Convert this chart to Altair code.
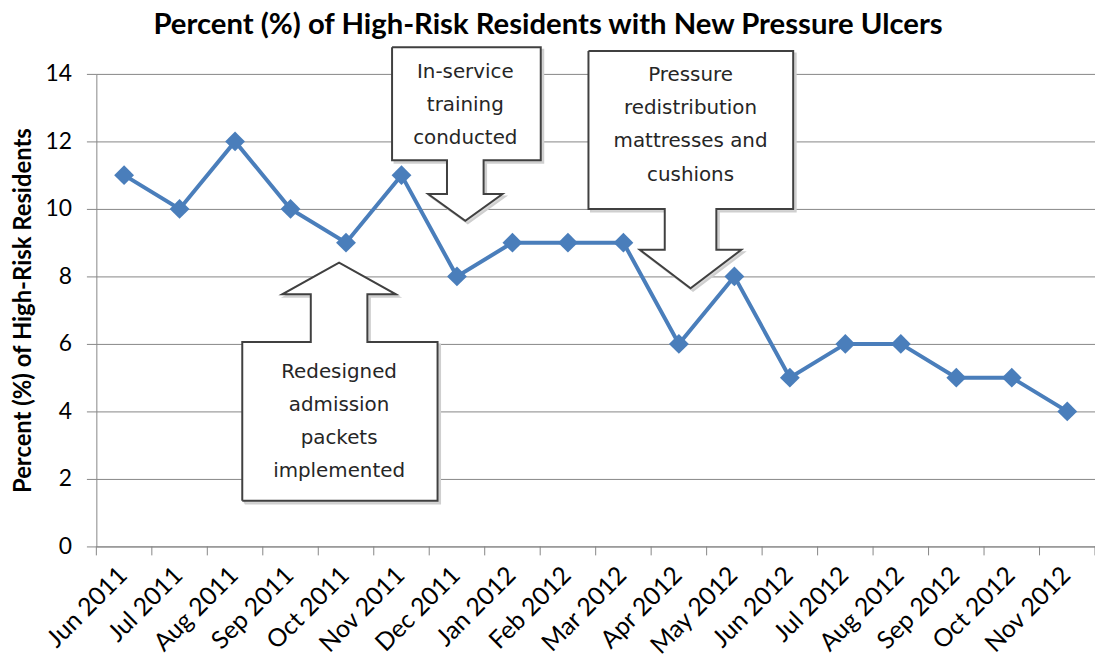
import altair as alt
import pandas as pd

# ---- data -------------------------------------------------------------
months = ["Jun 2011", "Jul 2011", "Aug 2011", "Sep 2011", "Oct 2011", "Nov 2011",
          "Dec 2011", "Jan 2012", "Feb 2012", "Mar 2012", "Apr 2012", "May 2012",
          "Jun 2012", "Jul 2012", "Aug 2012", "Sep 2012", "Oct 2012", "Nov 2012"]
percent = [11, 10, 12, 10, 9, 11, 8, 9, 9, 9, 6, 8, 5, 6, 6, 5, 5, 4]

# callout annotations (in data units: x = month index, y = percent)
callout_text = ["In-service\ntraining\nconducted",
                "Pressure\nredistribution\nmattresses and\ncushions",
                "Redesigned\nadmission\npackets\nimplemented"]
callout_text_y = [14.06, 13.97, 5.18]   # first line of each text
box_left = [4.83, 8.37, 2.13]
box_right = [7.51, 12.06, 5.65]
box_far = [14.79, 14.68, 1.35]     # box edge away from the arrow
box_near = [11.44, 10.0, 6.06]     # box edge where the arrow leaves
arrow_x = [6.15, 10.21, 3.875]
stem_half = [0.33, 0.465, 0.51]
head_half = [0.67, 0.915, 1.025]
neck_y = [10.44, 8.79, 7.47]
tip_y = [9.65, 7.65, 8.41]

# ---- tables -------------------------------------------------------------
n = len(months)
df = pd.DataFrame({"idx": list(range(n)), "month": months, "pct": percent})
bounds = pd.DataFrame({"b": [i - 0.5 for i in range(n + 1)]})

rows = []
for i in range(len(callout_text)):
    L, R, F, N = box_left[i], box_right[i], box_far[i], box_near[i]
    c, s, h = arrow_x[i], stem_half[i], head_half[i]
    pts = [(L, F), (R, F), (R, N), (c + s, N), (c + s, neck_y[i]), (c + h, neck_y[i]),
           (c, tip_y[i]), (c - h, neck_y[i]), (c - s, neck_y[i]), (c - s, N), (L, N), (L, F)]
    for k, (px, py) in enumerate(pts):
        rows.append({"callout": i, "k": k, "x": px, "y": py})
poly = pd.DataFrame(rows)
shadow = poly.assign(x=poly["x"] + 0.045, y=poly["y"] - 0.075)

txt = pd.DataFrame({"x": arrow_x, "y": callout_text_y, "t": callout_text})

# ---- scales / axes --------------------------------------------------------
label_expr = "''"
for i in reversed(range(n)):
    label_expr = f"datum.value == {i} ? '{months[i]}' : ({label_expr})"

xscale = alt.Scale(domain=[-0.5, n - 0.5], nice=False, zero=False)
yscale = alt.Scale(domain=[0, 14], nice=False)

FONT = "Lato"
GRID = "#868686"
H = 476

xaxis = alt.Axis(values=list(range(n)), labelExpr=label_expr, labelAngle=-45, labelFontSize=25,
                 labelFont=FONT, labelColor="#000000", labelAlign="right",
                 labelBaseline="top", labelPadding=16, labelOffset=-10, labelOverlap=False,
                 ticks=False, domainColor=GRID, grid=False, title=None)
yaxis = alt.Axis(values=list(range(0, 15, 2)), labelFontSize=23, labelFont=FONT,
                 labelColor="#000000", labelPadding=15, tickSize=10, tickColor=GRID,
                 domainColor=GRID, grid=True, gridColor=GRID,
                 title="Percent (%) of High-Risk Residents", titleFont=FONT,
                 titleFontSize=24, titleFontWeight="bold", titleColor="#000000",
                 titlePadding=10)

X = alt.X("x:Q", scale=xscale, axis=xaxis)
Y = alt.Y("y:Q", scale=yscale, axis=yaxis)

shadow_layer = alt.Chart(shadow).mark_line(fill="#d9d9d9", stroke="#cfcfcf", strokeWidth=2).encode(
    x=X, y=Y, detail="callout:N", order="k:Q")
poly_layer = alt.Chart(poly).mark_line(fill="white", stroke="#404040", strokeWidth=2,
                                       strokeJoin="miter").encode(
    x="x:Q", y="y:Q", detail="callout:N", order="k:Q")
text_layer = alt.Chart(txt).mark_text(lineBreak="\n", lineHeight=33.5, fontSize=20,
                                      font="DejaVu Sans", color="#262626",
                                      baseline="middle", align="center").encode(
    x="x:Q", y="y:Q", text="t:N")

tick_layer = alt.Chart(bounds).mark_rule(color=GRID, strokeWidth=1).encode(
    x="b:Q", y=alt.value(H), y2=alt.value(H + 9))

BLUE = "#4A7EBB"
line = alt.Chart(df).mark_line(color=BLUE, strokeWidth=4).encode(
    x="idx:Q", y="pct:Q")
pts = alt.Chart(df).mark_point(shape="diamond", filled=True, size=400, color=BLUE, opacity=1).encode(
    x="idx:Q", y="pct:Q")

chart = alt.layer(shadow_layer, poly_layer, text_layer, tick_layer, line, pts).properties(
    width=1006, height=H,
    autosize=alt.AutoSizeParams(type="none"),
    padding={"left": 89, "top": 64, "right": 0, "bottom": 110},
    title=alt.Title("Percent (%) of High-Risk Residents with New Pressure Ulcers",
                    font=FONT, fontSize=29.5, fontWeight="bold", color="#000000",
                    anchor="middle", dx=-48, offset=3),
).configure_view(stroke=None)

chart.save("out.html", embed_options={"renderer": "svg", "actions": False})
